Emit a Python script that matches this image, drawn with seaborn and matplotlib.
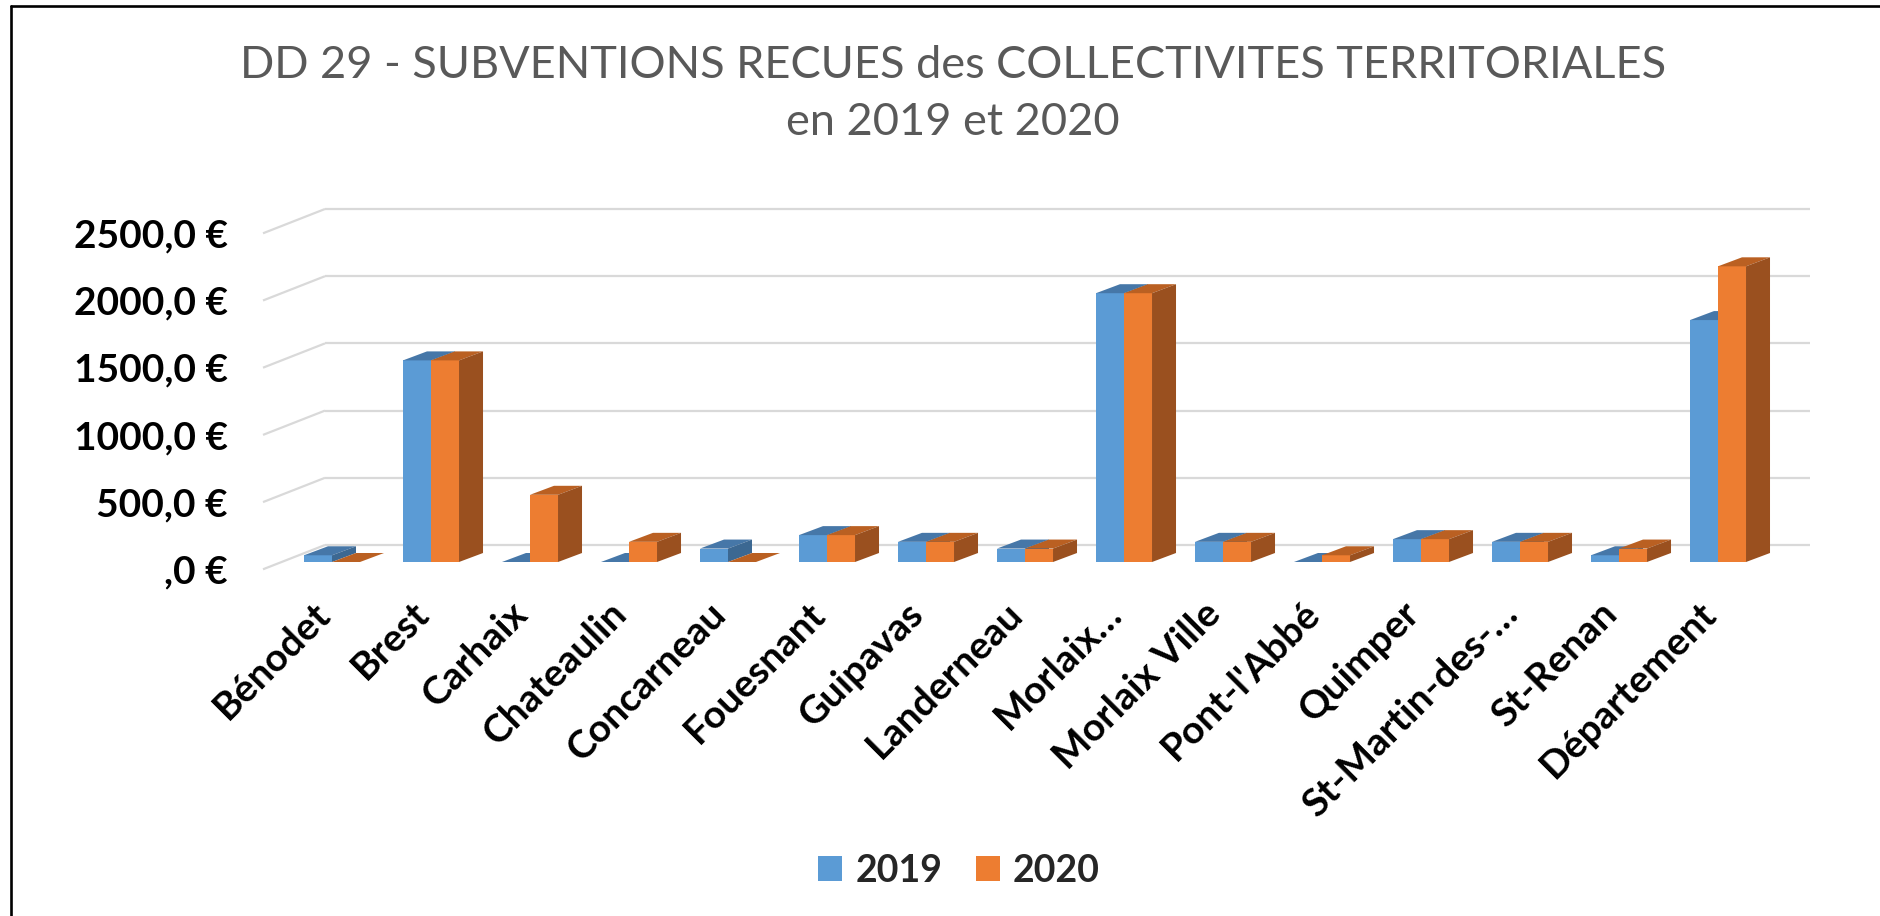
import numpy as np
import pandas as pd
import matplotlib
matplotlib.use("Agg")
import matplotlib.pyplot as plt
import matplotlib.transforms as mtransforms
from matplotlib.patches import Polygon, Patch
from matplotlib.lines import Line2D
import seaborn as sns

# ---------------- data ----------------
communes = ["Bénodet", "Brest", "Carhaix", "Chateaulin", "Concarneau", "Fouesnant",
            "Guipavas", "Landerneau", "Morlaix…", "Morlaix Ville", "Pont-l'Abbé",
            "Quimper", "St-Martin-des-…", "St-Renan", "Département"]
values_2019 = [50, 1500, 0, 0, 100, 200, 150, 100, 2000, 150, 0, 170, 150, 50, 1800]
values_2020 = [0, 1500, 500, 150, 0, 200, 150, 100, 2000, 150, 50, 170, 150, 100, 2200]
years = ["2019", "2020"]
y_ticks = [0, 500, 1000, 1500, 2000, 2500]
y_tick_labels = [",0 €", "500,0 €", "1000,0 €", "1500,0 €", "2000,0 €", "2500,0 €"]
title = "DD 29 - SUBVENTIONS RECUES des COLLECTIVITES TERRITORIALES\nen 2019 et 2020"

df = pd.DataFrame({
    "commune": communes * 2,
    "annee": [years[0]] * len(communes) + [years[1]] * len(communes),
    "valeur": values_2019 + values_2020,
})

# ---------------- style ----------------
sns.set_theme(style="white")
plt.rcParams["font.family"] = ["Lato", "DejaVu Sans"]

BLUE, ORANGE = "#5B9BD5", "#ED7D31"
TOP = {BLUE: "#4677A8", ORANGE: "#BA6022"}
SIDE = {BLUE: "#3C6892", ORANGE: "#9A501F"}
GRID = "#D9D9D9"

W, H, DPI = 1880, 916, 100
fig = plt.figure(figsize=(W / DPI, H / DPI), dpi=DPI)
fig.patch.set_facecolor("white")

# axes = plane of the bar front faces (pixel geometry of the reference)
ax_left, ax_right = 282.5, 1767.5
ax_base, ax_top = 562.0, 226.0
ax = fig.add_axes([ax_left / W, 1 - ax_base / H, (ax_right - ax_left) / W, (ax_base - ax_top) / H])
ax.set_facecolor("none")

sns.barplot(data=df, x="commune", y="valeur", hue="annee", palette=[BLUE, ORANGE],
            width=0.566, saturation=1, dodge=True, legend=False, ax=ax,
            linewidth=0, errorbar=None, zorder=2)

ax.set_xlim(-0.5, len(communes) - 0.5)
ax.set_ylim(0, 2500)
ax.set_xlabel("")
ax.set_ylabel("")
for s in ax.spines.values():
    s.set_visible(False)

# pixel -> data conversions
px_x = (len(communes)) / (ax_right - ax_left)      # category units per pixel
px_y = 2500 / (ax_base - ax_top)                      # value units per pixel

# depth of bars
ddx, ddy = 24 * px_x, 9 * px_y
bars = list(ax.patches)
for p in bars:
    col = matplotlib.colors.to_hex(p.get_facecolor()).upper()
    key = ORANGE if col == ORANGE.upper() else BLUE
    x0, w, h = p.get_x(), p.get_width(), p.get_height()
    z = 3 if key == ORANGE else 2
    p.set_zorder(z)
    top = Polygon([(x0, h), (x0 + w, h), (x0 + w + ddx, h + ddy), (x0 + ddx, h + ddy)],
                  closed=True, facecolor=TOP[key], edgecolor="none", zorder=z + 0.1, clip_on=False)
    side = Polygon([(x0 + w, 0), (x0 + w, h), (x0 + w + ddx, h + ddy), (x0 + w + ddx, ddy)],
                   closed=True, facecolor=SIDE[key], edgecolor="none", zorder=z + 0.1, clip_on=False)
    ax.add_patch(top)
    ax.add_patch(side)

# walls / gridlines: front plane and back wall offsets
fx, fy = -19.5 * px_x, -7.3 * px_y
bx, by = 42.5 * px_x, 17 * px_y
x_lo, x_hi = ax.get_xlim()
for v in y_ticks:
    ax.plot([x_lo + bx, x_hi + bx], [v + by, v + by], color=GRID, lw=1.6,
            clip_on=False, zorder=0.5, solid_capstyle="butt")
    ax.plot([x_lo + fx, x_lo + bx], [v + fy, v + by], color=GRID, lw=1.6,
            clip_on=False, zorder=0.5, solid_capstyle="butt")

# ticks
ax.set_yticks(y_ticks)
ax.set_yticklabels(y_tick_labels, fontsize=28, fontweight="bold", color="black")
ax.tick_params(axis="y", length=0, pad=(ax_left - 228) * 72 / DPI)
shift = mtransforms.ScaledTranslation(0, -7 / DPI, fig.dpi_scale_trans)
for lab in ax.get_yticklabels():
    lab.set_transform(lab.get_transform() + shift)

ax.set_xticks(range(len(communes)))
ax.set_xticklabels(communes, fontsize=28, fontweight="bold", color="black",
                   rotation=45, ha="right", va="center", rotation_mode="anchor")
ax.tick_params(axis="x", length=0, pad=33)
xshift = mtransforms.ScaledTranslation(-8 / DPI, 0, fig.dpi_scale_trans)
for lab in ax.get_xticklabels():
    lab.set_transform(lab.get_transform() + xshift)

# title
fig.text(953 / W, 1 - 94 / H, title, ha="center", va="center", fontsize=32.5,
         color="#595959", linespacing=1.5)

# legend
handles = [Patch(facecolor=BLUE, edgecolor="none", label=years[0]),
           Patch(facecolor=ORANGE, edgecolor="none", label=years[1])]
fig.legend(handles=handles, loc="center", bbox_to_anchor=(959 / W, 1 - 871 / H), ncol=2,
           frameon=False, prop={"weight": "bold", "size": 27},
           handlelength=0.64, handleheight=0.64, handletextpad=0.35, columnspacing=0.9)

# chart frame (left and top edges visible)
fig.add_artist(Line2D([11 / W, 11 / W], [0, 1 - 6 / H], color="black", lw=1.9,
                      transform=fig.transFigure))
fig.add_artist(Line2D([11 / W, 1], [1 - 6 / H, 1 - 6 / H], color="black", lw=1.9,
                      transform=fig.transFigure))

fig.savefig("out.png", dpi=DPI, facecolor="white")
